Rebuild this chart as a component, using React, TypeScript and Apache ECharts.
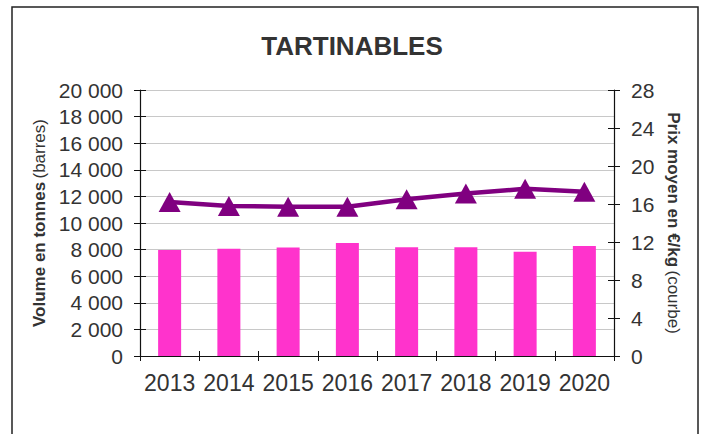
import React, { useEffect, useRef } from "react";
import * as echarts from "echarts";

const years = ["2013", "2014", "2015", "2016", "2017", "2018", "2019", "2020"];
const volumes = [7970, 8070, 8150, 8500, 8170, 8170, 7840, 8270];
const prices = [16.2, 15.8, 15.7, 15.7, 16.5, 17.1, 17.6, 17.3];

const FONT = "'Liberation Sans', Arial, sans-serif";
const fmtThousands = (v: number) =>
  String(v).replace(/\B(?=(\d{3})+(?!\d))/g, " ");

export default function App() {
  const ref = useRef<HTMLDivElement>(null);
  useEffect(() => {
    if (!ref.current) return;
    const chart = echarts.init(ref.current, undefined, { renderer: "svg" });
    const gridCommon = { left: 140, right: 90, top: 90, bottom: 78 };
    chart.setOption({
      animation: false,
      backgroundColor: "#ffffff",
      textStyle: { fontFamily: FONT },
      title: {
        text: "TARTINABLES",
        left: "center",
        top: 28,
        textStyle: { fontFamily: FONT, fontSize: 26, fontWeight: "bold", color: "#333333" },
      },
      graphic: [
        {
          type: "rect",
          shape: { x: 12, y: 7, width: 686, height: 460 },
          style: { fill: "none", stroke: "#222222", lineWidth: 1.5 },
          silent: true,
          z: 100,
        },
      ],
      grid: { ...gridCommon, containLabel: false },
      xAxis: [
        {
          type: "category",
          data: years,
          axisLine: { lineStyle: { color: "#111111", width: 1.2 } },
          axisTick: { show: true, length: 5, lineStyle: { color: "#111111" } },
          axisLabel: { fontFamily: FONT, fontSize: 23, color: "#333333", margin: 15, interval: 0 },
        },
        {
          type: "category",
          data: years,
          position: "bottom",
          axisLine: { show: false },
          axisTick: { show: true, inside: true, length: 5, lineStyle: { color: "#111111" } },
          axisLabel: { show: false },
        },
      ],
      yAxis: [
        {
          type: "value",
          min: 0,
          max: 20000,
          interval: 2000,
          position: "left",
          name: "{b|Volume en tonnes} {n|(barres)}",
          nameLocation: "middle",
          nameRotate: 90,
          nameGap: 92,
          nameTextStyle: {
            rich: {
              b: { fontFamily: FONT, fontSize: 17, fontWeight: "bold", color: "#333333" },
              n: { fontFamily: FONT, fontSize: 17, color: "#333333" },
            },
          },
          axisLine: { show: true, lineStyle: { color: "#111111", width: 1.2 } },
          axisTick: { show: true, length: 6, lineStyle: { color: "#111111" } },
          axisLabel: {
            fontFamily: FONT,
            fontSize: 21,
            color: "#333333",
            margin: 17,
            formatter: (v: number) => fmtThousands(v),
          },
          splitLine: { show: true, lineStyle: { color: "#c8c8c8", width: 1.2 } },
        },
        {
          type: "value",
          min: 0,
          max: 28,
          interval: 4,
          position: "right",
          name: "{b|Prix moyen en €/kg} {n|(courbe)}",
          nameLocation: "middle",
          nameRotate: -90,
          nameGap: 46,
          nameTextStyle: {
            rich: {
              b: { fontFamily: FONT, fontSize: 17, fontWeight: "bold", color: "#333333" },
              n: { fontFamily: FONT, fontSize: 17, color: "#333333" },
            },
          },
          axisLine: { show: true, lineStyle: { color: "#111111", width: 1.2 } },
          axisTick: { show: true, length: 6, lineStyle: { color: "#111111" } },
          axisLabel: { fontFamily: FONT, fontSize: 21, color: "#333333", margin: 17 },
          splitLine: { show: false },
        },
        {
          type: "value",
          min: 0,
          max: 20000,
          interval: 2000,
          position: "left",
          axisLine: { show: false },
          axisTick: { show: true, inside: true, length: 6, lineStyle: { color: "#111111" } },
          axisLabel: { show: false },
          splitLine: { show: false },
        },
        {
          type: "value",
          min: 0,
          max: 28,
          interval: 4,
          position: "right",
          axisLine: { show: false },
          axisTick: { show: true, inside: true, length: 6, lineStyle: { color: "#111111" } },
          axisLabel: { show: false },
          splitLine: { show: false },
        },
      ],
      series: [
        {
          type: "bar",
          name: "Volume",
          data: volumes,
          xAxisIndex: 0,
          yAxisIndex: 0,
          barWidth: 23,
          itemStyle: { color: "#ff33cc" },
        },
        {
          type: "line",
          name: "Prix",
          data: prices,
          xAxisIndex: 0,
          yAxisIndex: 1,
          symbol: "triangle",
          symbolSize: [22, 20],
          lineStyle: { color: "#800080", width: 4.5 },
          itemStyle: { color: "#800080" },
          z: 5,
        },
      ],
    });
    return () => chart.dispose();
  }, []);
  return <div ref={ref} style={{ width: 704, height: 434, position: "absolute", left: 0, top: 0 }} />;
}
